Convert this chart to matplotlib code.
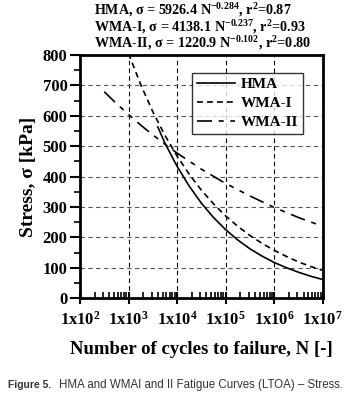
import matplotlib
matplotlib.use("Agg")
import matplotlib.pyplot as plt
from matplotlib.ticker import LogLocator, MultipleLocator, FixedLocator

plt.rcParams['font.family'] = ['Liberation Serif', 'DejaVu Serif']
plt.rcParams['font.weight'] = 'bold'
plt.rcParams['mathtext.fontset'] = 'custom'
plt.rcParams['mathtext.rm'] = 'Liberation Serif:bold'
plt.rcParams['mathtext.it'] = 'Liberation Serif:bold'
plt.rcParams['mathtext.bf'] = 'Liberation Serif:bold'

# values (N in cycles, stress in kPa)
n_hma = [4.0e3, 5.6e3, 1e4, 1.78e4, 3.16e4, 5.62e4, 1e5, 1.78e5, 3.16e5, 5.62e5,
         1e6, 1.78e6, 3.16e6, 5.62e6, 1e7]
s_hma = [563, 510, 433, 368, 312, 265, 225, 191, 162, 138, 117, 100, 85, 72, 61]

n_wma1 = [1e3, 1.78e3, 3.16e3, 5.62e3, 1e4, 1.78e4, 3.16e4, 5.62e4, 1e5, 1.78e5,
          3.16e5, 5.62e5, 1e6, 1.78e6, 3.16e6, 5.62e6, 1e7]
s_wma1 = [805, 702, 613, 535, 467, 407, 355, 310, 270, 236, 206, 180, 157, 137,
          119, 104, 91]

n_wma2 = [3.16e2, 5.62e2, 1e3, 1.78e3, 3.16e3, 5.62e3, 1e4, 3.16e4, 1e5, 3.16e5,
          1e6, 3.16e6, 1e7]
s_wma2 = [679, 640, 604, 569, 537, 506, 477, 424, 377, 336, 298, 265, 236]

eq_lines = ["HMA, σ = 5926.4 N$^{-0.284}$, r$^{2}$=0.87",
            "WMA-I, σ = 4138.1 N$^{-0.237}$, r$^{2}$=0.93",
            "WMA-II, σ = 1220.9 N$^{-0.102}$, r$^{2}$=0.80"]
xtick_vals = [1e2, 1e3, 1e4, 1e5, 1e6, 1e7]
xtick_labels = ["1x10$^{2}$", "1x10$^{3}$", "1x10$^{4}$", "1x10$^{5}$",
                "1x10$^{6}$", "1x10$^{7}$"]

fig = plt.figure(figsize=(3.54, 3.98), dpi=100)
ax = fig.add_axes([0.226, 0.251, 0.686, 0.611])

ax.plot(n_hma, s_hma, color='black', lw=1.2, ls='-', label='HMA')
ax.plot(n_wma1, s_wma1, color='black', lw=1.2, ls=(0, (3.5, 2.5)), label='WMA-I')
ax.plot(n_wma2, s_wma2, color='black', lw=1.2, ls=(0, (9, 4, 3, 4, 3, 4)),
        label='WMA-II')

ax.set_xscale('log')
ax.set_xlim(1e2, 1e7)
ax.set_ylim(0, 800)
ax.xaxis.set_major_locator(FixedLocator(xtick_vals))
ax.set_xticklabels(xtick_labels)
ax.xaxis.set_minor_locator(LogLocator(base=10, subs=range(2, 10), numticks=20))
ax.yaxis.set_major_locator(MultipleLocator(100))
ax.yaxis.set_minor_locator(MultipleLocator(50))

ax.grid(True, which='major', axis='x', color='black', ls=(0, (4, 3)), lw=0.8)
ax.grid(True, which='major', axis='y', color='#555555', ls=(0, (4, 3)), lw=0.8)

for sp in ax.spines.values():
    sp.set_linewidth(2)
ax.tick_params(axis='x', which='major', direction='inout', length=8, width=1.5,
               labelsize=12, pad=5)
ax.tick_params(axis='x', which='minor', direction='in', length=4, width=1.2)
ax.tick_params(axis='y', which='major', direction='out', length=7, width=1.5,
               labelsize=12, pad=2)
ax.tick_params(axis='y', which='minor', direction='out', length=4, width=1.2)

ax.set_ylabel("Stress, σ [kPa]", fontsize=14, fontweight='bold', labelpad=4)
ax.set_xlabel("Number of cycles to failure, N [-]", fontsize=13.5,
              fontweight='bold', labelpad=9)

leg = ax.legend(loc='upper right', bbox_to_anchor=(0.918, 0.926), fontsize=11,
                frameon=True, fancybox=False, edgecolor='black', handlelength=2.5,
                borderpad=0.3, labelspacing=0.35, handletextpad=0.4,
                borderaxespad=0)
leg.get_frame().set_linewidth(1.0)
for t in leg.get_texts():
    t.set_fontweight('bold')

for i, line in enumerate(eq_lines):
    fig.text(0.265, 0.996 - i * 0.041, line, fontsize=10.2, fontweight='bold',
             ha='left', va='top')

fig.text(0.022, 0.033, "Figure 5.", fontsize=7.4, fontweight='bold',
         family=['Liberation Sans', 'DejaVu Sans'], color='#333333', va='center')
fig.text(0.167, 0.033, "HMA and WMAI and II Fatigue Curves (LTOA) – Stress.",
         fontsize=8.3, fontweight='normal',
         family=['Liberation Sans', 'DejaVu Sans'], color='#333333', va='center')

fig.savefig("out.png", dpi=100)
